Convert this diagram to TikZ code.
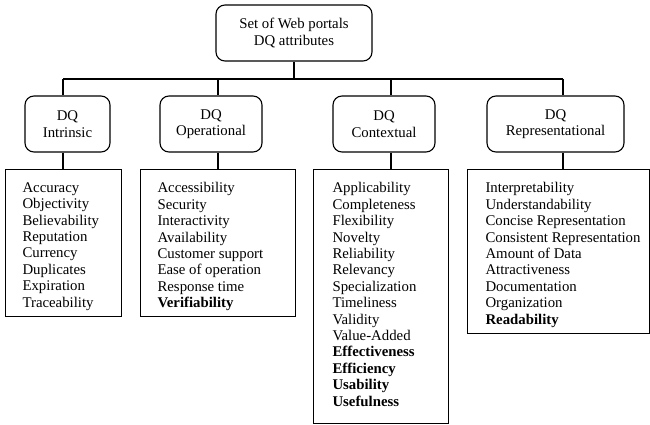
\documentclass[tikz,border=0pt]{standalone}
\usepackage{fontspec}
\setmainfont{Liberation Serif}
\begin{document}
\begin{tikzpicture}[x=1pt,y=-1pt,
  line width=1.1pt,
  every node/.style={font=\fontsize{14.8}{16.4}\selectfont},
  topbox/.style={draw,rounded corners=9pt,minimum width=156pt,minimum height=56pt,align=center,inner sep=0pt},
  catbox/.style={draw,rounded corners=9pt,minimum height=56pt,align=center,inner sep=0pt},
  listbox/.style={draw,rectangle,anchor=north west,inner sep=0pt},
  listtext/.style={anchor=north west,align=left,inner sep=0pt},
  link/.style={line width=1.1pt}
]
\useasboundingbox (0,0) rectangle (650,425);

% root of the hierarchy
\node[topbox] (root) at (294,33) {Set of Web portals\\DQ attributes};

% the four attribute categories
\node[catbox,minimum width=85pt]  (intr) at (67.5,124)  {DQ\\Intrinsic};
\node[catbox,minimum width=102pt] (oper) at (211,124)   {DQ\\Operational};
\node[catbox,minimum width=102pt] (cont) at (384,124)   {DQ\\Contextual};
\node[catbox,minimum width=137pt] (repr) at (555.5,124) {DQ\\Representational};

% branching bus
\coordinate (bus) at (294,79);
\draw[link] (root.south) -- (bus);
\draw[link] (63,79) coordinate (busL) -- (563,79) coordinate (busR);
\draw[link] (busL) -- (intr.north -| busL);
\draw[link] (218,79) coordinate (busO) -- (oper.north -| busO);
\draw[link] (391,79) coordinate (busC) -- (cont.north -| busC);
\draw[link] (busR) -- (repr.north -| busR);

% attribute list frames
\node[listbox,minimum width=116pt,minimum height=147pt] (l1) at (5,169) {};
\node[listbox,minimum width=155pt,minimum height=147pt] (l2) at (140,169) {};
\node[listbox,minimum width=135pt,minimum height=254pt] (l3) at (313,169) {};
\node[listbox,minimum width=182pt,minimum height=164pt] (l4) at (467,169) {};

\draw[link] (intr.south -| busL) -- (l1.north -| busL);
\draw[link] (oper.south -| busO) -- (l2.north -| busO);
\draw[link] (cont.south -| busC) -- (l3.north -| busC);
\draw[link] (repr.south -| busR) -- (l4.north -| busR);

% attribute lists
\node[listtext] (t1) at (22,182) {Accuracy\\Objectivity\\Believability\\Reputation\\Currency\\Duplicates\\Expiration\\Traceability};
\node[listtext] (t2) at (157,182) {Accessibility\\Security\\Interactivity\\Availability\\Customer support\\Ease of operation\\Response time\\\textbf{Verifiability}};
\node[listtext] (t3) at (332,182) {Applicability\\Completeness\\Flexibility\\Novelty\\Reliability\\Relevancy\\Specialization\\Timeliness\\Validity\\Value-Added\\\textbf{Effectiveness}\\\textbf{Efficiency}\\\textbf{Usability}\\\textbf{Usefulness}};
\node[listtext] (t4) at (485,182) {Interpretability\\Understandability\\Concise Representation\\Consistent Representation\\Amount of Data\\Attractiveness\\Documentation\\Organization\\\textbf{Readability}};
\end{tikzpicture}
\end{document}
